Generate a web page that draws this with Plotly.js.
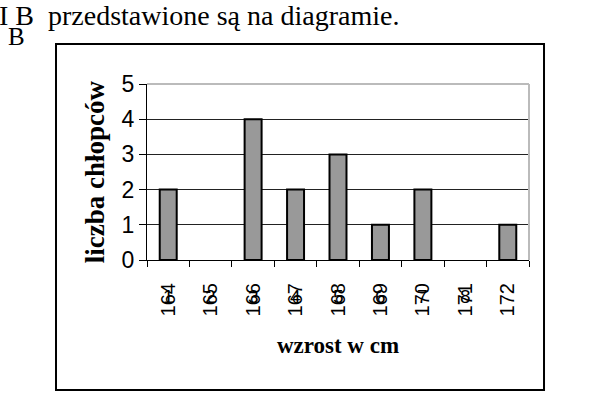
<!DOCTYPE html>
<html>
<head>
<meta charset="utf-8">
<script src="https://cdn.plot.ly/plotly-3.0.1.min.js"></script>
<style>html,body{margin:0;padding:0;background:#fff;}#chart{width:599px;height:411px;}</style>
</head>
<body>
<div id="chart"></div>
<script>
const categories = ['164', '165', '166', '167', '168', '169', '170', '171', '172'];
const counts = [2, 0, 4, 2, 3, 1, 2, 0, 1];
const overlayDigits = ['1', '2', '3', '4', '5', '6', '7', '8', ''];
const yTickValues = [0, 1, 2, 3, 4, 5];
const headerText = 'I\u00a0B\u00a0\u00a0przedstawione są na diagramie.';
const sideText = 'B';
const yTitle = 'liczba chłopców';
const xTitle = 'wzrost w cm';

const serif = 'Liberation Serif, Times New Roman, serif';
const sans = 'Liberation Sans, Arial, sans-serif';

const overlayAnnotations = categories.map((c, i) => ({
  x: i, xref: 'x', y: -0.205, yref: 'paper',
  text: overlayDigits[i], showarrow: false,
  font: {family: sans, size: 19, color: '#000'},
  xanchor: 'center', yanchor: 'middle'
}));

const data = [{
  type: 'bar',
  x: categories,
  y: counts,
  marker: {color: '#999999', line: {color: '#000', width: counts.map(v => (v > 0 ? 2 : 0))}},
  hoverinfo: 'x+y'
}];

const layout = {
  width: 599, height: 411,
  margin: {l: 147, r: 70, t: 84, b: 151},
  paper_bgcolor: '#fff', plot_bgcolor: '#fff',
  showlegend: false,
  bargap: 0.6,
  xaxis: {
    type: 'category',
    range: [-0.5, categories.length - 0.5],
    tickson: 'boundaries',
    ticks: 'outside', ticklen: 6, tickcolor: '#000', tickwidth: 1,
    tickangle: -90,
    showline: true, linecolor: '#000', linewidth: 1,
    showgrid: false,
    tickfont: {family: sans, size: 20, color: '#000'},
    ticklabelstandoff: 14,
    title: {text: '<b>' + xTitle + '</b>', font: {family: serif, size: 23, color: '#000'}, standoff: 21}
  },
  yaxis: {
    range: [0, 5],
    tickvals: yTickValues,
    ticks: 'outside', ticklen: 7, tickcolor: '#000', tickwidth: 1,
    showline: true, linecolor: '#000', linewidth: 1,
    showgrid: true, gridcolor: '#222', gridwidth: 1,
    zeroline: false,
    tickfont: {family: sans, size: 23, color: '#000'},
    title: {text: '<b>' + yTitle + '</b>', font: {family: serif, size: 27, color: '#000'}, standoff: 9}
  },
  shapes: [
    {type: 'rect', xref: 'paper', yref: 'paper', x0: -0.2382, x1: 1.0393, y0: -0.7386, y1: 1.2273,
     line: {color: '#000', width: 2}, fillcolor: 'rgba(0,0,0,0)', layer: 'below'},
    {type: 'line', xref: 'paper', yref: 'paper', x0: 0, x1: 1, y0: 1, y1: 1,
     line: {color: '#bbbbbb', width: 2}, layer: 'above'},
    {type: 'line', xref: 'paper', yref: 'paper', x0: 1, x1: 1, y0: 0, y1: 1,
     line: {color: '#bbbbbb', width: 2}, layer: 'above'}
  ],
  annotations: [
    {text: headerText, xref: 'paper', yref: 'paper', x: -0.392, y: 1.39,
     xanchor: 'left', yanchor: 'middle', showarrow: false,
     font: {family: serif, size: 28, color: '#000'}},
    {text: sideText, xref: 'paper', yref: 'paper', x: -0.368, y: 1.27,
     xanchor: 'left', yanchor: 'middle', showarrow: false,
     font: {family: serif, size: 25, color: '#000'}}
  ].concat(overlayAnnotations)
};

Plotly.newPlot('chart', data, layout, {displayModeBar: false, staticPlot: true});
</script>
</body>
</html>
